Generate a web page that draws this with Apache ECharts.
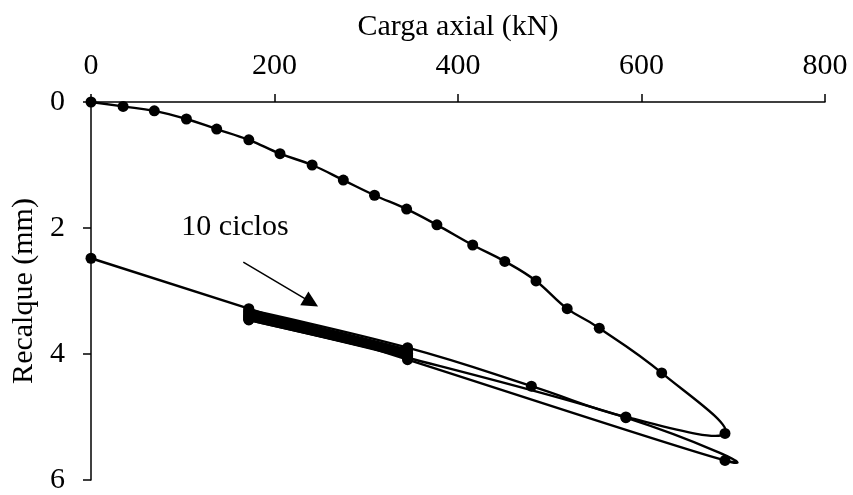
<!DOCTYPE html>
<html>
<head>
<meta charset="utf-8">
<script src="https://cdn.jsdelivr.net/npm/echarts@6/dist/echarts.min.js"></script>
<style>html,body{margin:0;padding:0;background:#fff}#c{width:853px;height:495px}</style>
</head>
<body>
<div id="c"></div>
<script>
// Loading branch
var loadKN = [0, 35, 69, 104, 137, 172, 206, 241, 275, 309, 344, 377, 416, 451, 485, 519, 554, 622, 691];
var loadMM = [0, 0.07, 0.14, 0.27, 0.43, 0.6, 0.82, 1.0, 1.24, 1.48, 1.7, 1.95, 2.27, 2.53, 2.84, 3.28, 3.59, 4.3, 5.26];
// First unloading
var unloadKN = [583, 480, 345, 172];
var unloadMM = [5.0, 4.51, 3.9, 3.3];
// 10 cycles between 345 and 172 kN
var cycleKN = [345, 172, 345, 172, 345, 172, 345, 172, 345, 172, 345, 172, 345, 172, 345, 172, 345, 172, 345, 172];
var cycleMM = [3.93, 3.32, 3.95, 3.34, 3.97, 3.36, 3.98, 3.38, 3.99, 3.39, 4.0, 3.41, 4.01, 3.42, 4.02, 3.44, 4.03, 3.45, 4.04, 3.46];
// Reloading
var reloadKN = [345, 583, 691];
var reloadMM = [4.06, 5.01, 5.69];
// Final unloading
var finalKN = [345, 172, 0];
var finalMM = [4.09, 3.28, 2.48];
// Annotation
var noteText = '10 ciclos';
var notePos = [157, 1.98];
var arrowFrom = [166, 2.54];
var arrowTo = [240, 3.18];
// Axis ticks
var xTicks = [0, 200, 400, 600, 800];
var yTicks = [0, 2, 4, 6];

function zip(a, b) { return a.map(function (v, i) { return [v, b[i]]; }); }
var data = [].concat(zip(loadKN, loadMM), zip(unloadKN, unloadMM), zip(cycleKN, cycleMM), zip(reloadKN, reloadMM), zip(finalKN, finalMM));

var TENSION = 0.2;
function renderCurve(params, api) {
  if (params.dataIndex !== 0) return;
  var p = data.map(function (d) { return api.coord(d); });
  var n = p.length, children = [];
  for (var i = 0; i < n - 1; i++) {
    var p0 = p[Math.max(i - 1, 0)], p1 = p[i], p2 = p[i + 1], p3 = p[Math.min(i + 2, n - 1)];
    children.push({
      type: 'bezierCurve',
      shape: {
        x1: p1[0], y1: p1[1], x2: p2[0], y2: p2[1],
        cpx1: p1[0] + (p2[0] - p0[0]) * TENSION, cpy1: p1[1] + (p2[1] - p0[1]) * TENSION,
        cpx2: p2[0] - (p3[0] - p1[0]) * TENSION, cpy2: p2[1] - (p3[1] - p1[1]) * TENSION
      },
      style: { stroke: '#000', lineWidth: 2.4, fill: null }
    });
  }
  return { type: 'group', children: children };
}

var FONT = 'Liberation Serif';
var chart = echarts.init(document.getElementById('c'));
chart.setOption({
  animation: false,
  backgroundColor: '#fff',
  grid: { left: 91, right: 28, top: 102, bottom: 12 },
  xAxis: {
    type: 'value', position: 'top',
    min: xTicks[0], max: xTicks[xTicks.length - 1], interval: xTicks[1] - xTicks[0],
    name: 'Carga axial (kN)', nameLocation: 'middle', nameGap: 60,
    nameTextStyle: { fontFamily: FONT, fontSize: 30, color: '#000' },
    axisLine: { show: true, lineStyle: { color: '#000', width: 1.5 } },
    axisTick: { show: true, inside: false, length: 8, lineStyle: { color: '#000', width: 1.5 } },
    axisLabel: { fontFamily: FONT, fontSize: 30, color: '#000', margin: 21 },
    splitLine: { show: false }
  },
  yAxis: {
    type: 'value', inverse: true,
    min: yTicks[0], max: yTicks[yTicks.length - 1], interval: yTicks[1] - yTicks[0],
    name: 'Recalque (mm)', nameLocation: 'middle', nameGap: 48,
    nameTextStyle: { fontFamily: FONT, fontSize: 30, color: '#000' },
    axisLine: { show: true, lineStyle: { color: '#000', width: 1.5 } },
    axisTick: { show: true, inside: false, length: 8, lineStyle: { color: '#000', width: 1.5 } },
    axisLabel: { fontFamily: FONT, fontSize: 30, color: '#000', margin: 26 },
    splitLine: { show: false }
  },
  series: [{
    type: 'custom',
    renderItem: renderCurve,
    data: data,
    encode: { x: 0, y: 1 },
    silent: true,
    clip: false,
    z: 2
  }, {
    type: 'scatter',
    data: data,
    symbol: 'circle',
    symbolSize: 11,
    itemStyle: { color: '#000', opacity: 1 },
    silent: true,
    z: 3,
    markPoint: {
      silent: true,
      symbol: 'circle', symbolSize: 1,
      itemStyle: { color: 'rgba(0,0,0,0)' },
      label: { show: true, position: 'inside', formatter: noteText, fontFamily: FONT, fontSize: 30, color: '#000' },
      data: [{ coord: notePos }]
    },
    markLine: {
      silent: true,
      symbol: ['none', 'triangle'],
      symbolSize: 16,
      label: { show: false },
      lineStyle: { color: '#000', width: 1.5, type: 'solid', opacity: 1 },
      itemStyle: { color: '#000' },
      data: [[{ coord: arrowFrom }, { coord: arrowTo }]]
    }
  }]
});
</script>
</body>
</html>
